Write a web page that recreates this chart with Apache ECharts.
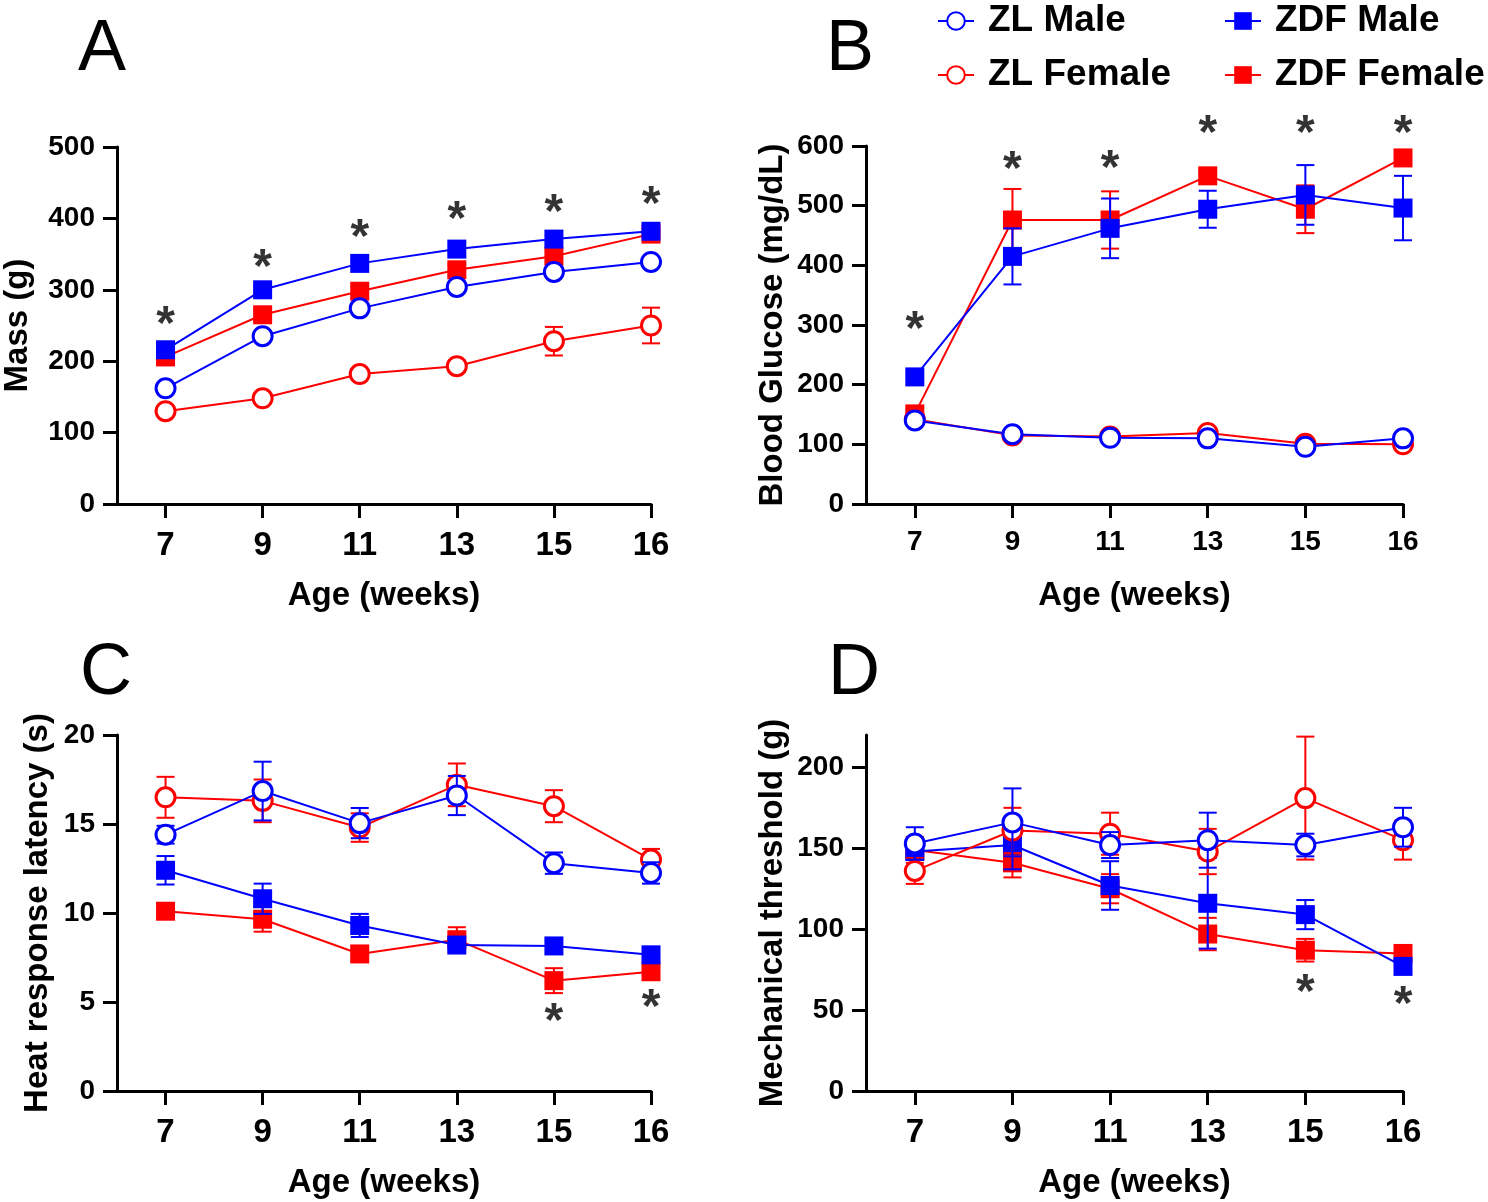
<!DOCTYPE html>
<html>
<head>
<meta charset="utf-8">
<script src="https://cdn.jsdelivr.net/npm/echarts@6/dist/echarts.min.js"></script>
<style>
html,body{margin:0;padding:0;background:#fff;}
#chart{width:1488px;height:1202px;}
</style>
</head>
<body>
<div id="chart"></div>
<script>
// ---- categories / tick labels ----
const ages = ['7', '9', '11', '13', '15', '16'];
const xPos = [1, 3, 5, 7, 9, 11]; // evenly spaced slots for the age categories

// ---- Panel A: Mass (g) ----
const massZLM = [162, 235, 274, 304, 325, 339];
const massZLMerr = [6, 6, 6, 5, 6, 6];
const massZLF = [130, 148, 182, 193, 228, 250];
const massZLFerr = [5, 6, 7, 8, 20, 25];
const massZDFM = [216, 300, 337, 357, 371, 382];
const massZDFMerr = [6, 5, 5, 5, 5, 5];
const massZDFF = [206, 265, 298, 328, 347, 378];
const massZDFFerr = [6, 7, 6, 7, 8, 5];
const massSig = [250, 329, 371, 397, 406, 418];

// ---- Panel B: Blood glucose (mg/dL) ----
const gluZLM = [140, 117, 111, 110, 96, 110];
const gluZLMerr = [5, 4, 4, 5, 4, 5];
const gluZLF = [142, 115, 113, 119, 101, 100];
const gluZLFerr = [4, 5, 4, 6, 5, 5];
const gluZDFM = [213, 415, 462, 494, 518, 496];
const gluZDFMerr = [12, 47, 50, 31, 50, 54];
const gluZDFF = [151, 476, 476, 550, 494, 580];
const gluZDFFerr = [8, 52, 48, 10, 40, 8];
const gluSig = [290, 559, 561, 618, 618, 618];

// ---- Panel C: Heat response latency (s) ----
const heatZLM = [14.4, 16.85, 15.05, 16.6, 12.8, 12.25];
const heatZLMerr = [0.5, 1.65, 0.85, 1.1, 0.6, 0.6];
const heatZLF = [16.5, 16.3, 14.8, 17.2, 16.0, 13.0];
const heatZLFerr = [1.15, 1.2, 0.8, 1.2, 0.9, 0.6];
const heatZDFM = [12.4, 10.8, 9.3, 8.2, 8.15, 7.65];
const heatZDFMerr = [0.8, 0.85, 0.65, 0.3, 0.3, 0.3];
const heatZDFF = [10.1, 9.65, 7.7, 8.5, 6.2, 6.7];
const heatZDFFerr = [0.4, 0.7, 0.4, 0.7, 0.7, 0.3];
const heatSig = [null, null, null, null, 3.85, 4.6];

// ---- Panel D: Mechanical threshold (g) ----
const mechZLM = [153, 166, 152, 155, 152, 163];
const mechZLMerr = [10, 21, 8, 17, 7, 12];
const mechZLF = [136, 161, 159, 148, 181, 155];
const mechZLFerr = [8, 14, 13, 14, 38, 12];
const mechZDFM = [148, 152, 127, 116, 109, 77];
const mechZDFMerr = [5, 15, 15, 28, 9, 4];
const mechZDFF = [149, 141, 125, 97, 87, 85];
const mechZDFFerr = [8, 9, 9, 10, 7, 5];
const mechSig = [null, null, null, null, 60, 52.5];

// ---- y-axis ticks ----
const yTicksA = [0, 100, 200, 300, 400, 500];
const yTicksB = [0, 100, 200, 300, 400, 500, 600];
const yTicksC = [0, 5, 10, 15, 20];
const yTicksD = [0, 50, 100, 150, 200];

const BLUE = '#0000ff';
const RED = '#ff0000';
const FONT = '"Liberation Sans", Arial, Helvetica, sans-serif';

const panels = [
  {grid: {left: 117, top: 147, width: 534, height: 357}, yMax: 500, yInt: 100, yTicks: yTicksA,
   yName: 'Mass (g)', yNameGap: 83, xLabelSize: 33, xMargin: 25,
   d: {zlm: [massZLM, massZLMerr], zlf: [massZLF, massZLFerr], zdfm: [massZDFM, massZDFMerr], zdff: [massZDFF, massZDFFerr]}, sig: massSig},
  {grid: {left: 866, top: 146, width: 537, height: 358}, yMax: 600, yInt: 100, yTicks: yTicksB,
   yName: 'Blood Glucose (mg/dL)', yNameGap: 77, xLabelSize: 28, xMargin: 24,
   d: {zlm: [gluZLM, gluZLMerr], zlf: [gluZLF, gluZLFerr], zdfm: [gluZDFM, gluZDFMerr], zdff: [gluZDFF, gluZDFFerr]}, sig: gluSig},
  {grid: {left: 117, top: 735, width: 534, height: 356}, yMax: 20, yInt: 5, yTicks: yTicksC,
   yName: 'Heat response latency (s)', yNameGap: 63, xLabelSize: 33, xMargin: 25,
   d: {zlm: [heatZLM, heatZLMerr], zlf: [heatZLF, heatZLFerr], zdfm: [heatZDFM, heatZDFMerr], zdff: [heatZDFF, heatZDFFerr]}, sig: heatSig},
  {grid: {left: 866, top: 735, width: 537, height: 356}, yMax: 220, yInt: 50, yTicks: yTicksD,
   yName: 'Mechanical threshold (g)', yNameGap: 77, xLabelSize: 33, xMargin: 25,
   d: {zlm: [mechZLM, mechZLMerr], zlf: [mechZLF, mechZLFerr], zdfm: [mechZDFM, mechZDFMerr], zdff: [mechZDFF, mechZDFFerr]}, sig: mechSig}
];

const groups = [
  {key: 'zdff', name: 'ZDF Female', color: RED, symbol: 'rect', size: 19, fill: RED, z: 2},
  {key: 'zdfm', name: 'ZDF Male', color: BLUE, symbol: 'rect', size: 19, fill: BLUE, z: 4},
  {key: 'zlf', name: 'ZL Female', color: RED, symbol: 'circle', size: 19, fill: '#fff', z: 6},
  {key: 'zlm', name: 'ZL Male', color: BLUE, symbol: 'circle', size: 19, fill: '#fff', z: 8}
];

function errRender(color) {
  return function (params, api) {
    const x = api.value(0), y = api.value(1), e = api.value(2);
    const top = api.coord([x, y + e]);
    const bot = api.coord([x, y - e]);
    const hw = 9;
    const style = {stroke: color, lineWidth: 2};
    return {type: 'group', children: [
      {type: 'line', shape: {x1: top[0], y1: top[1], x2: bot[0], y2: bot[1]}, style: style},
      {type: 'line', shape: {x1: top[0] - hw, y1: top[1], x2: top[0] + hw, y2: top[1]}, style: style},
      {type: 'line', shape: {x1: bot[0] - hw, y1: bot[1], x2: bot[0] + hw, y2: bot[1]}, style: style}
    ]};
  };
}

const grids = [], xAxes = [], yAxes = [], series = [];
panels.forEach(function (p, i) {
  grids.push(p.grid);
  xAxes.push({
    type: 'value', gridIndex: i, min: 0, max: 11,
    axisLine: {onZero: false, lineStyle: {color: '#000', width: 3}},
    axisTick: {customValues: xPos, length: 14, lineStyle: {color: '#000', width: 3}},
    axisLabel: {customValues: xPos, margin: p.xMargin, color: '#000', fontFamily: FONT, fontWeight: 'bold', fontSize: p.xLabelSize,
      formatter: function (v) { const k = xPos.indexOf(v); return k >= 0 ? ages[k] : ''; }},
    splitLine: {show: false},
    name: 'Age (weeks)', nameLocation: 'middle', nameGap: 75,
    nameTextStyle: {color: '#000', fontFamily: FONT, fontWeight: 'bold', fontSize: 33}
  });
  yAxes.push({
    type: 'value', gridIndex: i, min: 0, max: p.yMax, interval: p.yInt,
    axisLine: {show: true, onZero: false, lineStyle: {color: '#000', width: 3}},
    axisTick: {show: true, customValues: p.yTicks, length: 14, lineStyle: {color: '#000', width: 3}},
    axisLabel: {customValues: p.yTicks, margin: 22, color: '#000', fontFamily: FONT, fontWeight: 'bold', fontSize: 28},
    splitLine: {show: false},
    name: p.yName, nameLocation: 'middle', nameGap: p.yNameGap, nameRotate: 90,
    nameTextStyle: {color: '#000', fontFamily: FONT, fontWeight: 'bold', fontSize: 33}
  });
  groups.forEach(function (g) {
    const vals = p.d[g.key][0], errs = p.d[g.key][1];
    series.push({
      type: 'custom', xAxisIndex: i, yAxisIndex: i, z: g.z, silent: true,
      renderItem: errRender(g.color),
      encode: {x: 0, y: 1},
      data: vals.map(function (v, k) { return [xPos[k], v, errs[k]]; })
    });
    series.push({
      type: 'line', name: g.name, xAxisIndex: i, yAxisIndex: i, z: g.z + 1,
      symbol: g.symbol, symbolSize: g.size, showAllSymbol: true,
      lineStyle: {color: g.color, width: 2},
      itemStyle: {color: g.fill, borderColor: g.color, borderWidth: g.symbol === 'circle' ? 3 : 0},
      emphasis: {disabled: true},
      data: vals.map(function (v, k) { return [xPos[k], v]; })
    });
  });
  series.push({
    type: 'scatter', xAxisIndex: i, yAxisIndex: i, z: 20, silent: true, clip: false,
    symbolSize: 1, itemStyle: {color: 'rgba(0,0,0,0)'},
    label: {show: true, position: 'inside', formatter: '*', color: '#000', textBorderWidth: 0, textBorderColor: 'transparent',
      fontFamily: FONT, fontWeight: 'bold', fontSize: 48},
    data: p.sig.map(function (v, k) { return v == null ? null : [xPos[k], v]; }).filter(function (d) { return d; })
  });
});

const legendCommon = {
  orient: 'vertical', top: -4, itemWidth: 36, itemHeight: 22, itemGap: 14,
  textStyle: {color: '#000', fontFamily: FONT, fontWeight: 'bold', fontSize: 37, lineHeight: 40, padding: [0, 0, 0, 9]},
  selectedMode: false
};

const option = {
  backgroundColor: '#fff',
  animation: false,
  grid: grids, xAxis: xAxes, yAxis: yAxes, series: series,
  legend: [
    Object.assign({}, legendCommon, {left: 932, data: ['ZL Male', 'ZL Female']}),
    Object.assign({}, legendCommon, {left: 1219, data: ['ZDF Male', 'ZDF Female']})
  ],
  graphic: [
    {type: 'text', left: 78, top: 14, style: {text: 'A', font: '72px ' + FONT, fill: '#000'}},
    {type: 'text', left: 826, top: 14, style: {text: 'B', font: '72px ' + FONT, fill: '#000'}},
    {type: 'text', left: 80, top: 638, style: {text: 'C', font: '72px ' + FONT, fill: '#000'}},
    {type: 'text', left: 828, top: 638, style: {text: 'D', font: '72px ' + FONT, fill: '#000'}}
  ]
};

const chart = echarts.init(document.getElementById('chart'), null, {renderer: 'canvas'});
chart.setOption(option);
</script>
</body>
</html>
